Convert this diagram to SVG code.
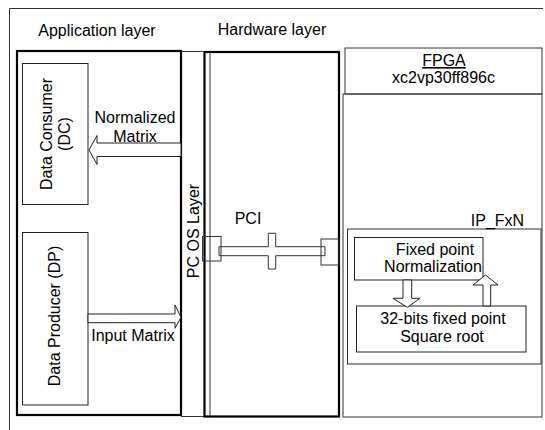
<svg xmlns="http://www.w3.org/2000/svg" width="545" height="430" viewBox="0 0 545 430">
<style>
text{font-family:"Liberation Sans",Arial,sans-serif;font-size:16px;fill:#000}
.c{text-anchor:middle}
.thin{fill:none;stroke:#333;stroke-width:1}
.thick{fill:none;stroke:#000;stroke-width:2.2}
.box{fill:#fff;stroke:#222;stroke-width:1}
.arr{fill:#fff;stroke:#222;stroke-width:1}
</style>
<rect width="545" height="430" fill="#fff"/>
<g id="frame">
<path d="M9.5,430 V8.5 H543" class="thin" stroke="#555"/>
</g>
<g id="application-layer">
<rect x="17" y="51" width="164" height="364" class="thick"/>
<text x="97" y="36" class="c">Application layer</text>
</g>
<g id="pc-os-layer">
<path d="M181,51.5 H204 M181,416.5 H204" class="thin" stroke="#666"/>
<text transform="translate(199,231) rotate(-90)" class="c">PC OS Layer</text>
</g>
<g id="hardware-layer">
<rect x="204.5" y="52" width="134.5" height="364.5" class="thick"/>
<line x1="210" y1="52" x2="210" y2="416.5" class="thin"/>
<text x="272" y="35" class="c">Hardware layer</text>
</g>
<g id="data-consumer">
<rect x="22.5" y="63.5" width="65.5" height="141" class="box"/>
<text transform="translate(52,134) rotate(-90)" class="c">Data Consumer</text>
<text transform="translate(70,134) rotate(-90)" class="c">(DC)</text>
</g>
<g id="data-producer">
<rect x="22.5" y="232.5" width="65.5" height="172.5" class="box"/>
<text transform="translate(60,316) rotate(-90)" class="c">Data Producer (DP)</text>
</g>
<g id="pci">
<rect x="202.5" y="236.5" width="18.5" height="24.5" class="thin"/>
<rect x="321" y="239" width="18" height="26" class="thin"/>
<polygon points="219,246.7 268.3,246.7 268.3,233.3 275.7,233.3 275.7,246.7 325,246.7 325,255.7 275.7,255.7 275.7,269 268.3,269 268.3,255.7 219,255.7" class="thin"/>
<text x="248" y="224" class="c">PCI</text>
</g>
<g id="fpga">
<rect x="345" y="48" width="197" height="46" class="thin" stroke="#666"/>
<rect x="343" y="94" width="199" height="323" class="thin"/>
<text x="444" y="66" class="c" text-decoration="underline">FPGA</text>
<text x="443.5" y="83" class="c">xc2vp30ff896c</text>
</g>
<g id="ip-fxn">
<rect x="347.5" y="229" width="193.5" height="135" class="thin"/>
<text x="497.5" y="226" class="c">IP_FxN</text>
</g>
<g id="fixed-point-normalization">
<rect x="354.5" y="237.5" width="128.5" height="42.5" class="box"/>
<text x="435" y="255" class="c">Fixed point</text>
<text x="433" y="271.5" class="c">Normalization</text>
</g>
<g id="square-root">
<rect x="356.5" y="306" width="169.5" height="46" class="box"/>
<text x="443" y="324" class="c">32-bits fixed point</text>
<text x="442" y="341.5" class="c">Square root</text>
</g>
<g id="connectors">
<polygon points="181,143 97,143 97,135.5 89,150 97,164.5 97,156.5 181,156.5" class="arr"/>
<polygon points="88,314 175,314 175,305 181,317.3 175,328.3 175,322.7 88,322.7" class="arr"/>
<polygon points="403,280 403,298.3 393,298.3 407.3,307.3 420,298.3 411.7,298.3 411.7,280" class="arr"/>
<polygon points="483,306 483,285 473,285 485.5,275 498,285 490.7,285 490.7,306" class="arr"/>
<text x="135" y="123" class="c">Normalized</text>
<text x="135" y="141.5" class="c">Matrix</text>
<text x="133" y="341" class="c">Input Matrix</text>
</g>
</svg>
